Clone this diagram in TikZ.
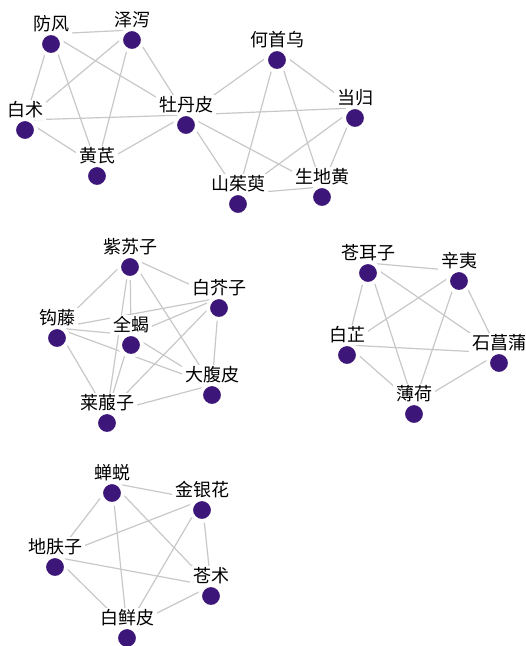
\documentclass[tikz,border=0pt]{standalone}
\usepackage{fontspec}
\newfontfamily\cjk{Noto Sans CJK SC}
\usetikzlibrary{backgrounds}
\definecolor{dot}{RGB}{60,22,120}
\definecolor{edgegray}{RGB}{200,200,200}
\tikzset{
  lab/.style={font=\cjk\fontsize{18}{18}\selectfont, fill=white, inner xsep=3pt, inner ysep=2pt, text=black},
  dotc/.style={fill=dot, draw=white, line width=4pt},
  link/.style={draw=edgegray, line width=1.2pt}
}
\newcommand\herb[4]{%
  \coordinate (#1) at (#2,#3-10);
  \node[lab] (#1-l) at (#2,#3-20) {#4};
  \path[dotc] (#2,#3) circle (11);
}
\begin{document}
\begin{tikzpicture}[x=1pt,y=-1pt]
\useasboundingbox (0,0) rectangle (526,646);
% group 1
\herb{fangfeng}{51}{44}{防风}
\herb{zexie}{132}{40}{泽泻}
\herb{baizhu}{25}{130}{白术}
\herb{huangqi}{97}{176}{黄芪}
\herb{mudanpi}{186}{125}{牡丹皮}
\herb{heshouwu}{277}{60}{何首乌}
\herb{danggui}{355}{118}{当归}
\herb{shanzhuyu}{238}{204}{山茱萸}
\herb{shengdihuang}{322}{197}{生地黄}
% group 2
\herb{zisuzi}{130}{267}{紫苏子}
\herb{baijiezi}{219}{308}{白芥子}
\herb{gouteng}{57}{338}{钩藤}
\herb{quanxie}{131}{345}{全蝎}
\herb{dafupi}{212}{395}{大腹皮}
\herb{laifuzi}{107}{423}{莱菔子}
% group 3
\herb{cangerzi}{368}{273}{苍耳子}
\herb{xinyi}{459}{281}{辛夷}
\herb{baizhi}{347}{355}{白芷}
\herb{shichangpu}{499}{363}{石菖蒲}
\herb{bohe}{414}{414}{薄荷}
% group 4
\herb{chantui}{112}{493}{蝉蜕}
\herb{jinyinhua}{202}{510}{金银花}
\herb{difuzi}{55}{567}{地肤子}
\herb{cangzhu}{211}{596}{苍术}
\herb{baixianpi}{127}{638}{白鲜皮}
\begin{scope}[on background layer]
\fill[white] (0,0) rectangle (526,646);
\foreach \a/\b in {fangfeng/zexie, fangfeng/baizhu, fangfeng/huangqi, fangfeng/mudanpi,
  zexie/baizhu, zexie/huangqi, zexie/mudanpi, baizhu/mudanpi, baizhu/huangqi,
  huangqi/mudanpi, mudanpi/heshouwu, mudanpi/danggui, mudanpi/shanzhuyu,
  mudanpi/shengdihuang, heshouwu/shanzhuyu, heshouwu/shengdihuang, heshouwu/danggui,
  danggui/shanzhuyu, danggui/shengdihuang, shanzhuyu/shengdihuang,
  zisuzi/baijiezi, zisuzi/gouteng, zisuzi/quanxie, zisuzi/laifuzi, zisuzi/dafupi,
  gouteng/baijiezi, gouteng/quanxie, gouteng/dafupi, gouteng/laifuzi,
  quanxie/baijiezi, quanxie/dafupi, quanxie/laifuzi, baijiezi/dafupi,
  baijiezi/laifuzi, dafupi/laifuzi,
  cangerzi/xinyi, cangerzi/baizhi, cangerzi/bohe, cangerzi/shichangpu,
  xinyi/baizhi, xinyi/bohe, xinyi/shichangpu, baizhi/shichangpu, baizhi/bohe,
  shichangpu/bohe,
  chantui/jinyinhua, chantui/difuzi, chantui/baixianpi, chantui/cangzhu,
  jinyinhua/difuzi, jinyinhua/cangzhu, jinyinhua/baixianpi, difuzi/cangzhu,
  difuzi/baixianpi, cangzhu/baixianpi}
  \draw[link] (\a) -- (\b);
\end{scope}
\end{tikzpicture}
\end{document}
